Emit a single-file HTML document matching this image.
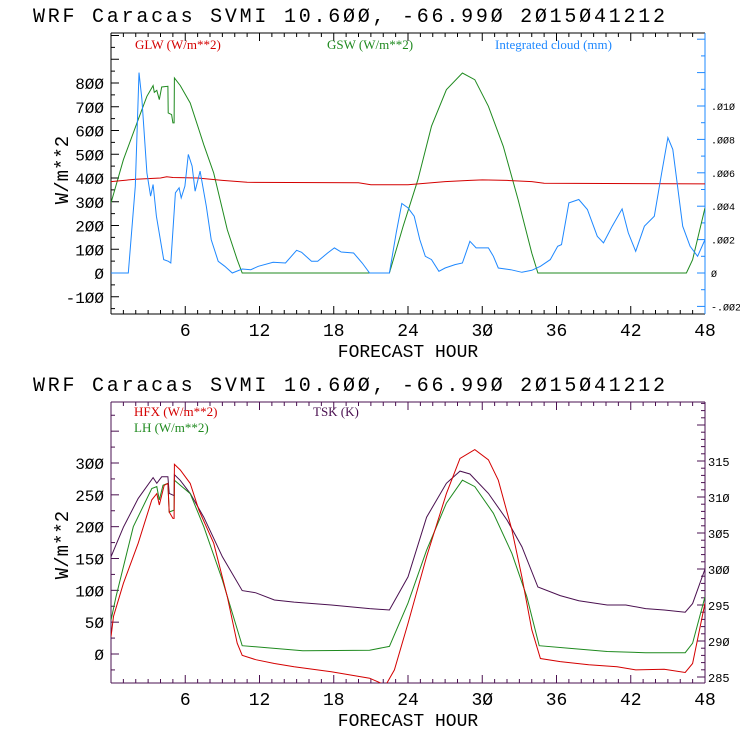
<!DOCTYPE html>
<html><head><meta charset="utf-8"><style>
html,body{margin:0;padding:0;background:#fff;}
svg{display:block;}
text{font-family:"Liberation Mono",monospace;}
.leg{font-family:"Liberation Serif",serif;font-weight:normal;font-size:13px;}
</style></head><body>
<svg id="c" width="740" height="740" viewBox="0 0 740 740">
<defs>
<clipPath id="clipTop"><rect x="111" y="33" width="594" height="281"/></clipPath>
<clipPath id="clipBot"><rect x="111" y="402" width="594" height="281"/></clipPath>
</defs>
</svg>
<script>
// ---------- TOP CHART DATA ----------
const glwHours = [0,2,4,4.5,5,7,9,11,20,21,24,27,29,30,32,34,35,48];
const glwValues = [385,395,400,405,402,400,390,382,380,372,372,385,390,392,390,385,378,375];
const gswHours = [0,1,2.2,2.9,3.4,3.5,3.7,3.9,4.1,4.6,4.62,4.9,5.0,5.1,5.12,5.6,6.4,7.1,7.5,8.3,9.4,10.2,10.6,22.5,23.6,24.8,25.9,27.1,28.4,29.4,30.5,31.7,32.9,34,34.5,46.5,47,48];
const gswValues = [295,477,646,744,789,761,769,730,783,786,674,667,632,632,821,789,716,604,540,421,182,56,0,0,196,393,618,772,842,814,702,533,309,84,0,0,56,274];
const cloudHours = [0,1.4,1.96,2.26,2.5,2.9,3.2,3.4,3.67,4.26,4.64,4.83,5.2,5.5,5.67,5.97,6.25,6.55,6.8,7.2,7.7,8.1,8.66,9.2,9.8,10.6,11.3,11.9,13.1,14.1,15,15.4,16.2,16.7,17.5,18.05,18.6,19.6,20.3,20.9,22.5,23.05,23.5,24,24.5,24.95,25.4,25.9,26.5,27,27.8,28.4,29,29.5,30.1,30.5,30.9,31.3,32.3,33.2,34,34.7,35.5,36.1,36.4,37,37.8,38.5,39.3,39.8,40.5,41.3,41.8,42.4,43.1,43.9,44.5,45,45.4,46.2,46.8,47.4,48];
const cloudValues = [0,0,.0052,.012,.0104,.006,.0046,.0053,.0034,.0008,.0007,.0006,.0048,.0051,.0045,.0052,.0071,.0064,.0049,.0061,.004,.002,.0007,.0004,0,.00024,.0002,.0004,.00064,.0006,.00136,.00124,.0007,.0007,.0012,.0015,.00126,.0012,.0006,0,0,.0024,.00416,.0039,.0034,.002,.001,.0008,.0001,.0003,.0005,.0006,.0019,.0015,.0015,.0015,.001,.0003,.0002,.00004,.00016,.0004,.0008,.0016,.0017,.0042,.0044,.0038,.0022,.0018,.0028,.00384,.0024,.0013,.0028,.0034,.006,.0081,.0074,.0028,.0016,.001,.002];
const topLeftTicks = [-100,0,100,200,300,400,500,600,700,800];
const topRightTicks = [-0.002,0,0.002,0.004,0.006,0.008,0.010];
const topRightLabels = ["-.002","0",".002",".004",".006",".008",".010"];
// ---------- BOTTOM CHART DATA ----------
const hfxHours = [0,0.2,1,2.2,3.3,3.7,3.9,4.3,4.6,4.7,5,5.1,5.12,5.6,6.4,7.1,8.3,9.4,10.2,10.6,11.7,13.2,14.8,17.8,20.9,22.2,22.9,24,25.5,27.1,28.2,29.4,30.5,31.3,32.4,33.2,34,34.7,36.3,38.6,40.9,42.4,44.7,46.4,47,48];
const hfxValues = [27,59,111,174,242,252,234,265,268,223,213,213,298,289,268,226,174,90,17,-2,-9,-15,-20,-28,-38,-49,-25,48,153,252,307,321,305,273,195,121,38,-7,-12,-17,-20,-25,-24,-29,-15,80];
const lhHours = [0,0.4,1.8,3.3,3.7,3.9,4.2,4.6,4.7,5.1,5.12,5.6,6.4,7.5,9,10.6,12.5,15.5,20.9,22.5,24,25.5,27.1,28.4,29.4,30.9,32.4,33.6,34.6,37,40.1,43.2,46.4,47,48];
const lhValues = [53,90,200,260,263,242,265,268,223,226,273,265,252,200,116,13,10,5,6,12,80,163,237,273,263,221,158,90,13,9,4,2,2,17,90];
const tskHours = [0,1,2.2,3.4,3.7,4.1,4.6,4.7,5.1,5.12,5.6,6.4,7.5,9,10.6,11.7,13.2,14.8,17.8,20.9,22.5,24,25.5,27.1,28.2,29,30.5,32,33.2,34.5,36.3,37.8,40.1,41.6,43.2,44.7,46.4,47,48];
const tskValues = [301.7,305.8,309.8,312.7,311.9,312.8,312.8,310.5,310.2,313.1,312.3,310.5,307.2,301.7,297,296.7,295.7,295.4,295,294.5,294.3,298.9,307.2,311.9,313.6,313.2,310.5,306.8,303.1,297.5,296.3,295.6,295,295,294.5,294.3,294,295.2,300];
const botLeftTicks = [0,50,100,150,200,250,300];
const botRightTicks = [285,290,295,300,305,310,315];
const hourTicks = [6,12,18,24,30,36,42,48];

const NS="http://www.w3.org/2000/svg";
const svg=document.getElementById('c');
function mk(tag,attrs,parent){const e=document.createElementNS(NS,tag);for(const k in attrs)e.setAttribute(k,attrs[k]);(parent||svg).appendChild(e);return e;}
const X0=111,X1=705;
function xS(h){return X0+(X1-X0)*h/48;}
function yTopL(v){return 273-v*0.2375;}
function yTopR(v){return 273-v*(167/0.010);}
function yBotL(v){return 654-v*(191/300);}
function yBotR(v){return 677-(v-285)*7.2;}

function txt(s,x,y,size,fill,anchor,name,cls){const t=mk('text',{x:x,y:y,'font-size':size,fill:fill,'text-anchor':anchor||'start'});if(cls)t.setAttribute('class',cls);t.textContent=s;


return t;}

function line(x1,y1,x2,y2,c,name,w){const l=mk('line',{x1:x1,y1:y1,x2:x2,y2:y2,stroke:c,'stroke-width':w||1});


return l;}

function series(hs,vs,yf,color,clip,name){
  let d='';for(let i=0;i<hs.length;i++){d+=(i?'L':'M')+xS(hs[i]).toFixed(1)+' '+yf(vs[i]).toFixed(1);}
  const p=mk('path',{d:d,fill:'none',stroke:color,'stroke-width':1,'clip-path':'url(#'+clip+')'});
  
  
}

function panel(top,bot,leftColor,rightColor,prefix){
  line(X0,top,X1,top,leftColor,prefix+'-top-border');
  line(X0,bot,X1,bot,leftColor,prefix+'-bottom-border');
  line(X0,top,X0,bot,leftColor,prefix+'-left-axis');
  line(X1,top,X1,bot,rightColor,prefix+'-right-axis');
  for(let h=1;h<48;h++){const len=(h%6===0)?8:4;
    line(xS(h),bot,xS(h),bot-len,leftColor,prefix+'-x-tick');
    line(xS(h),top,xS(h),top+len,leftColor,prefix+'-x-tick-top');}
  hourTicks.forEach(h=>txt(String(h).replace(/0/g,'\u00d8'),xS(h),bot+22,18,'#000','middle',prefix+'-x-tick-label'));
  txt('FORECAST HOUR',(X0+X1)/2,bot+43,18,'#000','middle',prefix+'-x-axis-title');
}
function title(y,name){const t=txt('WRF  Caracas SVMI  10.6\u00d8\u00d8, -66.99\u00d8  2\u00d815\u00d841212',33,y,20,'#000','start',name);t.setAttribute('textLength','632');}

// ---------- TOP ----------
title(22,'top-title');
panel(33,314,'#000','#1e88ff','top');
for(let v=-150;v<=1000;v+=50){const y=yTopL(v);if(y<33||y>314)continue;line(X0,y,X0+(v%100===0?8:4),y,'#000','top-y-tick');}
topLeftTicks.forEach(v=>txt(String(v).replace(/0/g,'\u00d8'),104,yTopL(v)+6,16,'#000','end','top-y-tick-label'));
for(let i=-3;i<=16;i++){const v=i*0.001;const y=yTopR(v);if(y<33||y>314)continue;line(X1,y,X1-(i%2===0?8:4),y,'#1e88ff','top-right-tick');}
topRightTicks.forEach((v,i)=>txt(topRightLabels[i].replace(/0/g,'\u00d8'),711,yTopR(v)+4,10,'#000','start','top-right-tick-label'));
{const t=txt('W/m**2',0,0,19,'#000','middle','top-y-axis-title');t.setAttribute('transform','translate(68,170) rotate(-90)');}
txt('GLW (W/m**2)',135,49,13,'#d40000','start','legend-glw','leg');
txt('GSW (W/m**2)',327,49,13,'#1f8a1f','start','legend-gsw','leg');
txt('Integrated cloud (mm)',495,49,13,'#1e88ff','start','legend-cloud','leg');
series(gswHours,gswValues,yTopL,'#1f8a1f','clipTop','gsw-line');
series(glwHours,glwValues,yTopL,'#d40000','clipTop','glw-line');
series(cloudHours,cloudValues,yTopR,'#1e88ff','clipTop','cloud-line');

// ---------- BOTTOM ----------
title(391,'bottom-title');
panel(402,683,'#4a1050','#4a1050','bottom');
for(let v=-50;v<=400;v+=25){const y=yBotL(v);if(y<402||y>683)continue;line(X0,y,X0+(v%50===0?8:4),y,'#4a1050','bottom-y-tick');}
botLeftTicks.forEach(v=>txt(String(v).replace(/0/g,'\u00d8'),104,yBotL(v)+6,16,'#000','end','bottom-y-tick-label'));
for(let v=284;v<=324;v++){const y=yBotR(v);if(y<402||y>683)continue;line(X1,y,X1-(v%5===0?8:4),y,'#4a1050','bottom-right-tick');}
botRightTicks.forEach(v=>txt(String(v).replace(/0/g,'\u00d8'),708,yBotR(v)+5,12,'#000','start','bottom-right-tick-label'));
{const t=txt('W/m**2',0,0,19,'#000','middle','bottom-y-axis-title');t.setAttribute('transform','translate(68,545) rotate(-90)');}
txt('HFX (W/m**2)',134,416,13,'#d40000','start','legend-hfx','leg');
txt('LH  (W/m**2)',134,432,13,'#1f8a1f','start','legend-lh','leg');
txt('TSK (K)',313,416,13,'#4a1050','start','legend-tsk','leg');
series(tskHours,tskValues,yBotR,'#4a1050','clipBot','tsk-line');
series(lhHours,lhValues,yBotL,'#1f8a1f','clipBot','lh-line');
series(hfxHours,hfxValues,yBotL,'#d40000','clipBot','hfx-line');
</script>
</body></html>
